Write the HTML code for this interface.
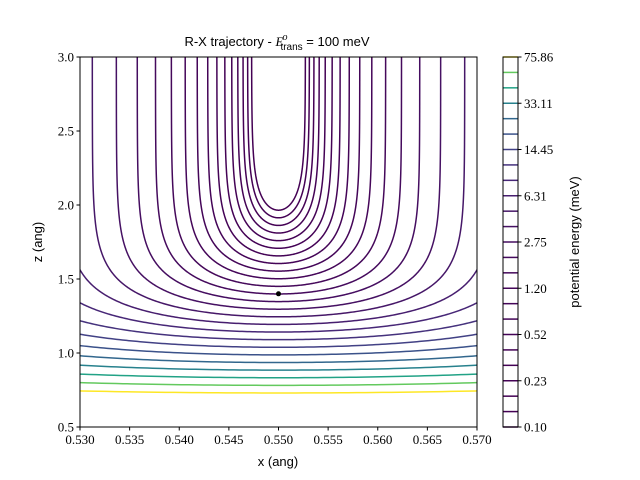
<!DOCTYPE html>
<html><head><meta charset="utf-8"><style>
body{margin:0;background:#fff;}
svg{display:block;}
.tk{font-family:"Liberation Serif",serif;font-size:13px;fill:#000;}
.lb{font-family:"Liberation Sans",sans-serif;font-size:13px;fill:#000;}
</style></head><body>
<svg id="chart" width="640" height="480" viewBox="0 0 640 480">
<defs><clipPath id="clip"><rect x="80" y="57" width="397" height="370"/></clipPath></defs>
<g id="plot" clip-path="url(#clip)"></g>
<rect x="80" y="57" width="397" height="370" fill="none" stroke="#000" stroke-width="1"/>
<g id="axes"></g>
<text x="277" y="46" text-anchor="middle" class="lb" font-size="15">R-X trajectory - <tspan font-family="Liberation Serif" font-style="italic">E</tspan><tspan font-family="Liberation Serif" font-style="italic" font-size="10" dy="-6" dx="-1">o</tspan><tspan font-size="10" dy="10" dx="-7">trans</tspan><tspan dy="-4"> = 100 meV</tspan></text>
<text x="278" y="466" text-anchor="middle" class="lb" font-size="13">x (ang)</text>
<text x="0" y="0" transform="translate(42,242) rotate(-90)" text-anchor="middle" class="lb" font-size="13">z (ang)</text>
<text x="0" y="0" transform="translate(579,242) rotate(-90)" text-anchor="middle" class="lb" font-size="12">potential energy (meV)</text>
<g id="cbar"></g>
</svg>
<script>
const levelCount = 25;
const levelMin = 0.1;
const levelMax = 75.86;
const xTicks = ["0.530","0.535","0.540","0.545","0.550","0.555","0.560","0.565","0.570"];
const yTicks = ["0.5","1.0","1.5","2.0","2.5","3.0"];
const cbarTicks = ["0.10","0.23","0.52","1.20","2.75","6.31","14.45","33.11","75.86"];
const xCenter = [0.55];
const zRef = [0.73];
const curvK = [13600];
const decayB = [5.37];
const markerPoint = [0.55, 1.4];

const NS="http://www.w3.org/2000/svg";
const X0=80,X1=477,Y0=57,Y1=427;
const sx=x=>X0+(x-0.53)/(0.04)*(X1-X0);
const sy=z=>Y1-(z-0.5)/2.5*(Y1-Y0);
const levels=[];for(let i=0;i<levelCount;i++)levels.push(levelMin*Math.pow(levelMax/levelMin,i/(levelCount-1)));
const vir=[[68,1,84],[72,36,117],[65,68,135],[53,95,141],[42,120,142],[33,145,140],[34,168,132],[68,191,112],[122,209,81],[189,223,38],[253,231,37]];
function viridis(t){t=Math.max(0,Math.min(1,t));const p=t*(vir.length-1),i=Math.min(Math.floor(p),vir.length-2),f=p-i;
 const c=vir[i].map((v,k)=>Math.round(v+(vir[i+1][k]-v)*f));return `rgb(${c[0]},${c[1]},${c[2]})`;}
const col=L=>viridis((L-levelMin)/(levelMax-levelMin));
const g=z=>levelMax*Math.exp(-decayB[0]*(z-zRef[0]));
function mk(tag,attrs,parent){const e=document.createElementNS(NS,tag);for(const k in attrs)e.setAttribute(k,attrs[k]);parent.appendChild(e);return e;}
const plot=document.getElementById('plot');
levels.forEach((L,i)=>{
 const zc=zRef[0]-Math.log(L/levelMax)/decayB[0];
 const right=[];const N=300;
 for(let j=0;j<=N;j++){const s=j/N;const z=zc+(3.05-zc)*s*s;const r=Math.max(0,L-g(z));const dx=Math.sqrt(r/curvK[0]);right.push([dx,z]);}
 const pts=[];for(let j=right.length-1;j>=0;j--)pts.push([xCenter[0]-right[j][0],right[j][1]]);
 for(let j=1;j<right.length;j++)pts.push([xCenter[0]+right[j][0],right[j][1]]);
 const d=pts.map((p,k)=>(k?'L':'M')+sx(p[0]).toFixed(2)+','+sy(p[1]).toFixed(2)).join('');
 const e=mk('path',{d:d,fill:'none',stroke:col(L),'stroke-width':1.5},plot);
 
 
});
const dot=mk('circle',{cx:sx(markerPoint[0]),cy:sy(markerPoint[1]),r:2.5,fill:'#000'},plot);


const ax=document.getElementById('axes');
xTicks.forEach((t,i)=>{const x=sx(parseFloat(t));
 mk('line',{x1:x,x2:x,y1:Y1,y2:Y1+3.5,stroke:'#000'},ax);
 const e=mk('text',{x:x,y:Y1+17,'text-anchor':'middle',class:'tk'},ax);e.textContent=t;
 
 });
yTicks.forEach((t,i)=>{const y=sy(parseFloat(t));
 mk('line',{x1:X0-3.5,x2:X0,y1:y,y2:y,stroke:'#000'},ax);
 const e=mk('text',{x:X0-6,y:y+4.5,'text-anchor':'end',class:'tk'},ax);e.textContent=t;
 
 });
const cb=document.getElementById('cbar');
const CX0=503,CX1=518;
levels.forEach((L,i)=>{const y=Y1-i*(Y1-Y0)/(levelCount-1);
 const e=mk('line',{x1:CX0,x2:CX1,y1:y,y2:y,stroke:col(L),'stroke-width':1.5},cb);
 
 });
const fr=mk('rect',{x:CX0,y:Y0,width:CX1-CX0,height:Y1-Y0,fill:'none',stroke:'#000'},cb);


cbarTicks.forEach((t,i)=>{const y=Y1-i*3*(Y1-Y0)/(levelCount-1);
 mk('line',{x1:CX1,x2:CX1+3.5,y1:y,y2:y,stroke:'#000'},cb);
 const e=mk('text',{x:CX1+6,y:y+4.5,class:'tk'},cb);e.textContent=t;
 
 });
</script>
</body></html>
